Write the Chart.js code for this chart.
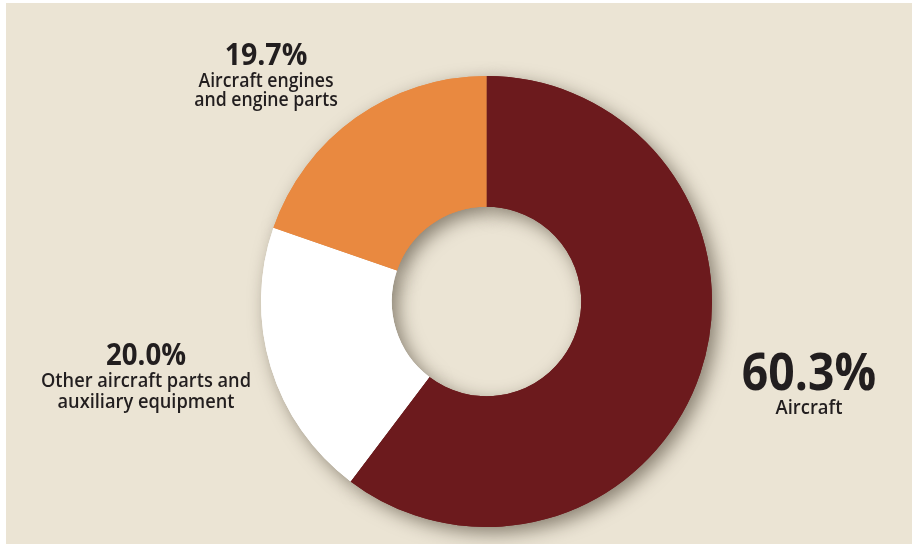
<!DOCTYPE html>
<html>
<head>
<meta charset="utf-8">
<script src="https://cdn.jsdelivr.net/npm/chart.js@4.4.1/dist/chart.umd.min.js"></script>
<style>
  html, body { margin: 0; padding: 0; background: #ffffff; }
  #wrap { position: relative; width: 912px; height: 544px; }
</style>
</head>
<body>
<div id="wrap"><canvas id="chart" width="912" height="544"></canvas></div>
<script>
// Export shares by product group (percent)
const categories = ['Aircraft', 'Other aircraft parts and auxiliary equipment', 'Aircraft engines and engine parts'];
const shares = [60.3, 20.0, 19.7];
const sliceColors = ['#6c1a1d', '#ffffff', '#e98940'];

// Label lines drawn next to each slice
const labelLines = [
  ['Aircraft'],
  ['Other aircraft parts and', 'auxiliary equipment'],
  ['Aircraft engines', 'and engine parts']
];

const PAGE_BG = '#ebe4d4';
const TEXT = '#221e1f';
const FONT = '"Open Sans", "DejaVu Sans", sans-serif';

// Beige panel behind the chart
const panelPlugin = {
  id: 'panel',
  beforeDraw(chart) {
    const ctx = chart.ctx;
    ctx.save();
    ctx.fillStyle = PAGE_BG;
    ctx.fillRect(6, 3, chart.width - 6, chart.height - 3);
    ctx.restore();
  }
};

// Soft drop shadow under the ring: draw the arcs once with a shadow,
// then the regular pass paints the ring on top of it.
const ringShadowPlugin = {
  id: 'ringShadow',
  beforeDatasetsDraw(chart) {
    const ctx = chart.ctx;
    const meta = chart.getDatasetMeta(0);
    ctx.save();
    ctx.shadowColor = 'rgba(40, 30, 15, 0.5)';
    ctx.shadowBlur = 18;
    ctx.shadowOffsetX = 6;
    ctx.shadowOffsetY = 6;
    meta.data.forEach(arc => arc.draw(ctx));
    ctx.restore();
  }
};

// Slightly condensed text, centred on x
function condensedText(ctx, text, x, y, sx) {
  ctx.save();
  ctx.translate(x, y);
  ctx.scale(sx, 1);
  ctx.fillText(text, 0, 0);
  ctx.restore();
}

// Percentage labels with their descriptions
const sliceLabelPlugin = {
  id: 'sliceLabels',
  afterDatasetsDraw(chart, args, opts) {
    const ctx = chart.ctx;
    ctx.save();
    ctx.fillStyle = TEXT;
    ctx.textAlign = 'center';
    ctx.textBaseline = 'alphabetic';
    opts.items.forEach((it, i) => {
      ctx.font = `700 ${it.big}px ${FONT}`;
      condensedText(ctx, shares[i].toFixed(1) + '%', it.x, it.y, it.sxBig);
      ctx.font = `600 ${it.small}px ${FONT}`;
      labelLines[i].forEach((line, k) => {
        condensedText(ctx, line, it.x, it.y + it.gap + k * it.lh, it.sxSmall);
      });
    });
    ctx.restore();
  }
};

new Chart(document.getElementById('chart'), {
  type: 'doughnut',
  data: {
    labels: categories,
    datasets: [{
      data: shares,
      backgroundColor: sliceColors,
      borderWidth: 0,
      hoverOffset: 0
    }]
  },
  options: {
    responsive: false,
    animation: false,
    cutout: '42%',
    layout: { padding: { left: 61, right: 0, top: 76, bottom: 17 } },
    plugins: {
      legend: { display: false },
      tooltip: { enabled: false },
      sliceLabels: {
        items: [
          { x: 809, y: 390, big: 52, small: 19, gap: 24, lh: 20, sxBig: 0.89, sxSmall: 0.97 },
          { x: 146, y: 365, big: 31, small: 19, gap: 22, lh: 21, sxBig: 0.89, sxSmall: 0.96 },
          { x: 266, y: 65, big: 31, small: 19, gap: 22, lh: 19, sxBig: 0.92, sxSmall: 0.93 }
        ]
      }
    }
  },
  plugins: [panelPlugin, ringShadowPlugin, sliceLabelPlugin]
});
</script>
</body>
</html>
